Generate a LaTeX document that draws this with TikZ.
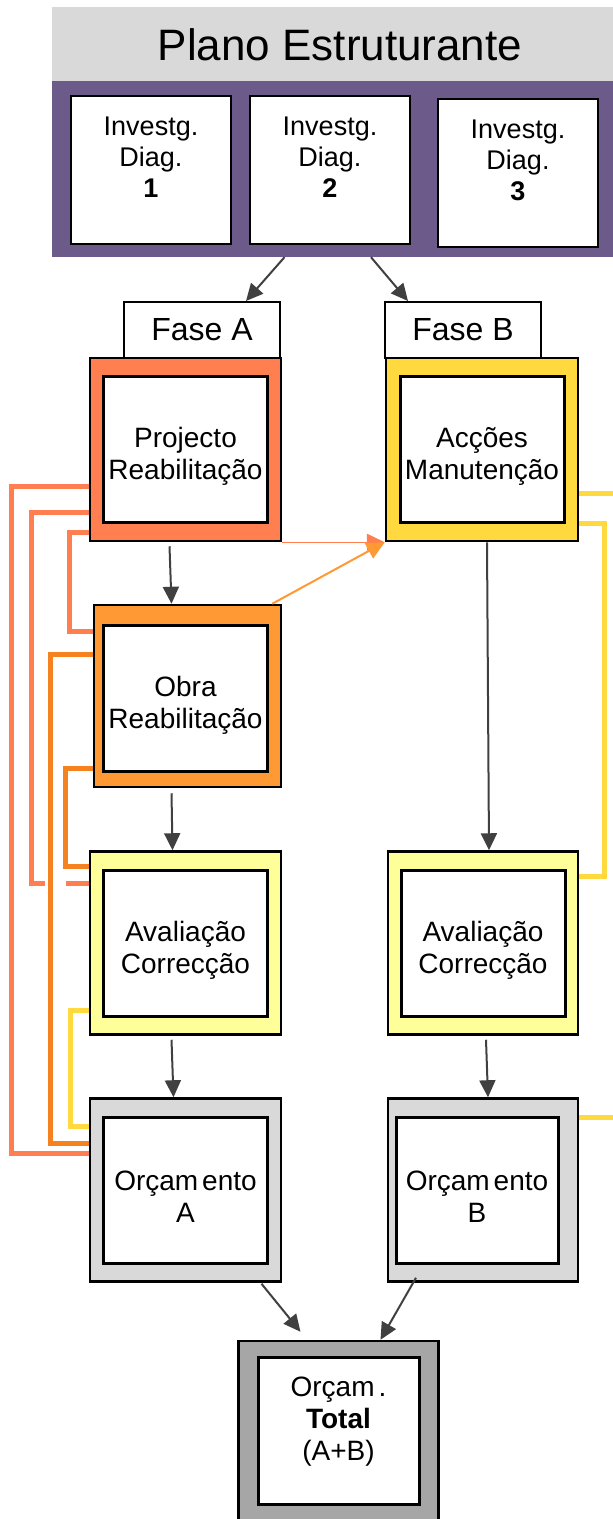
\documentclass[tikz,border=0pt]{standalone}
\usepackage{fontspec}
\setmainfont{Liberation Sans}
\usetikzlibrary{arrows.meta, positioning, calc, backgrounds}
\definecolor{planogray}{HTML}{D9D9D9}
\definecolor{planopurple}{HTML}{6C5B8A}
\definecolor{projcoral}{HTML}{FF7F50}
\definecolor{obraorange}{HTML}{FF9933}
\definecolor{linhaorange}{HTML}{F5821F}
\definecolor{manutgold}{HTML}{FFD93D}
\definecolor{avalyellow}{HTML}{FFFF99}
\definecolor{orcgray}{HTML}{D9D9D9}
\definecolor{totalgray}{HTML}{A6A6A6}
\definecolor{setagray}{HTML}{404040}

\tikzset{
  outerbox/.style={draw=black, line width=2.5pt, minimum width=191pt, minimum height=183pt, inner sep=0pt},
  innerbox/.style={draw=black, fill=white, line width=3pt, minimum width=164pt, minimum height=146pt, inner sep=0pt},
  texto/.style={font=\fontsize{28}{32}\selectfont, align=center, inner sep=0pt, yshift=-7pt},
  rotulo/.style={label={[texto]center:{#1}}},
  diagbox/.style={draw=black, fill=white, line width=2.5pt, minimum width=160pt, minimum height=148pt, inner sep=0pt, align=center, font=\fontsize{27}{31}\selectfont},
  fasebox/.style={draw=black, fill=white, line width=2pt, minimum width=156pt, minimum height=56pt, font=\fontsize{32}{36}\selectfont},
  seta/.style={draw=setagray, line width=2pt, -{Triangle[length=17pt, width=16pt]}},
  retorno/.style={line width=5pt},
}

\begin{document}
\begin{tikzpicture}[x=1pt, y=-1pt]
  \useasboundingbox (0,0) rectangle (613,1519);

  % Plano Estruturante
  \node[fill=planogray, minimum width=561pt, minimum height=74pt, inner sep=0pt] (plano) at (332.5,44) {};
  \node[font=\fontsize{44}{50}\selectfont, inner sep=0pt] (titulo) at (340,45) {Plano Estruturante};
  \node[fill=planopurple, minimum width=561pt, minimum height=176pt, inner sep=0pt] (investig) at (332.5,169) {};
  \node[diagbox] (diag1) at (151,170) {Investg.\\Diag.\\\textbf{1}\\[-15pt]\strut};
  \node[diagbox] (diag2) at (330,170) {Investg.\\Diag.\\\textbf{2}\\[-15pt]\strut};
  \node[diagbox] (diag3) at (518,173) {Investg.\\Diag.\\\textbf{3}\\[-15pt]\strut};

  % Fase A
  \node[outerbox, fill=projcoral] (proj) at (185.5,449.5) {};
  \node[innerbox, rotulo={Projecto\\Reabilitação}] (projI) at (proj.center) {};
  \node[outerbox, fill=obraorange, minimum width=187pt, minimum height=182pt] (obra) at (187.5,696) {};
  \node[innerbox, rotulo={Obra\\Reabilitação}] (obraI) at ([shift={(-2,2)}]obra.center) {};
  \node[outerbox, fill=avalyellow] (avalA) at (185.5,943) {};
  \node[innerbox, rotulo={Avaliação\\Correcção}] (avalAI) at (avalA.center) {};
  \node[outerbox, fill=orcgray] (orcA) at (185.5,1190) {};
  \node[innerbox, rotulo={Orçam\kern4pt ento\\A}] (orcAI) at (orcA.center) {};
  \node[fasebox] (faseA) at (202,330) {Fase A};

  % Fase B
  \node[outerbox, fill=manutgold, minimum width=192pt] (acc) at (482,449.5) {};
  \node[innerbox, rotulo={Acções\\Manutenção}] (accI) at (acc.center) {};
  \node[outerbox, fill=avalyellow, minimum width=190pt] (avalB) at (483,943) {};
  \node[innerbox, rotulo={Avaliação\\Correcção}] (avalBI) at (avalB.center) {};
  \node[outerbox, fill=orcgray, minimum width=190pt] (orcB) at (483,1190) {};
  \node[innerbox, minimum width=162pt, rotulo={Orçam\kern4pt ento\\B}] (orcBI) at ([xshift=-6pt]orcB.center) {};
  \node[fasebox] (faseB) at (463,330) {Fase B};

  % Total
  \node[outerbox, fill=totalgray, minimum width=200pt, minimum height=182pt] (total) at (338.5,1432) {};
  \node[innerbox, minimum width=161pt, minimum height=147pt,
    label={[texto, yshift=16pt]center:{Orçam\kern4pt.\\\textbf{Total}\\(A+B)}}] (totalI) at ([yshift=1pt]total.center) {};

  % setas
  \draw[seta] ([xshift=-48pt]investig.south) -- ([xshift=44pt]faseA.north);
  \draw[seta] ([xshift=38.5pt]investig.south) -- ([xshift=-55pt]faseB.north);
  \draw[seta] ([shift={(-16,4)}]proj.south) -- ([xshift=-16pt]obra.north);
  \draw[seta] ([shift={(-16,5)}]obra.south) -- ([xshift=-13pt]avalA.north);
  \draw[seta] ([shift={(-14,4)}]avalA.south) -- ([xshift=-12pt]orcA.north);
  \draw[seta] ([xshift=5pt]acc.south) -- ([xshift=6pt]avalB.north);
  \draw[seta] ([shift={(3,4)}]avalB.south) -- ([xshift=5pt]orcB.north);
  \draw[seta] ([shift={(76,1)}]orcA.south) -- ([shift={(-38,-8)}]total.north);
  \draw[seta] ([shift={(-67,-5)}]orcB.south) -- ([xshift=42pt]total.north);
  \draw[projcoral, line width=1.5pt, -{Triangle[length=18pt, width=17pt]}] (proj.south east) -- (acc.south west);
  \draw[obraorange, line width=2pt, -{Triangle[length=18pt, width=17pt]}] ([xshift=-10pt]obra.north east) -- (acc.south west);

  % retornos
  \coordinate (accfim) at (620,493);
  \coordinate (orcfim) at (620,1117);
  \begin{scope}[on background layer]
    \draw[retorno, projcoral] ([yshift=-36.5pt]proj.west) -- ++(-77,0) |- ([yshift=37pt]orcA.west);
    \draw[retorno, projcoral] ([yshift=-62.5pt]proj.west) -- ++(-57,0) |- ([shift={(-44,-60)}]avalA.west)
      ([shift={(-23,-60)}]avalA.west) -- ([yshift=60pt]avalA.west);
    \draw[retorno, projcoral] ([yshift=-82.5pt]proj.west) -- ++(-19,0) |- ([yshift=65pt]obra.west);
    \draw[retorno, linhaorange] ([yshift=42pt]obra.west) -- ++(-42,0) |- ([yshift=47pt]orcA.west);
    \draw[retorno, linhaorange] ([yshift=-72pt]obra.west) -- ++(-27,0) |- ([yshift=77pt]avalA.west);
    \draw[retorno, manutgold] ([yshift=-67pt]avalA.west) -- ++(-18,0) |- ([yshift=64pt]orcA.west);
    \draw[retorno, manutgold] ([yshift=-43.5pt]acc.east) -- (accfim);
    \draw[retorno, manutgold] ([yshift=-73.5pt]acc.east) -- ++(25,0) |- ([yshift=67pt]avalB.east);
    \draw[retorno, manutgold] ([yshift=73pt]orcB.east) -- (orcfim);
  \end{scope}
\end{tikzpicture}
\end{document}
